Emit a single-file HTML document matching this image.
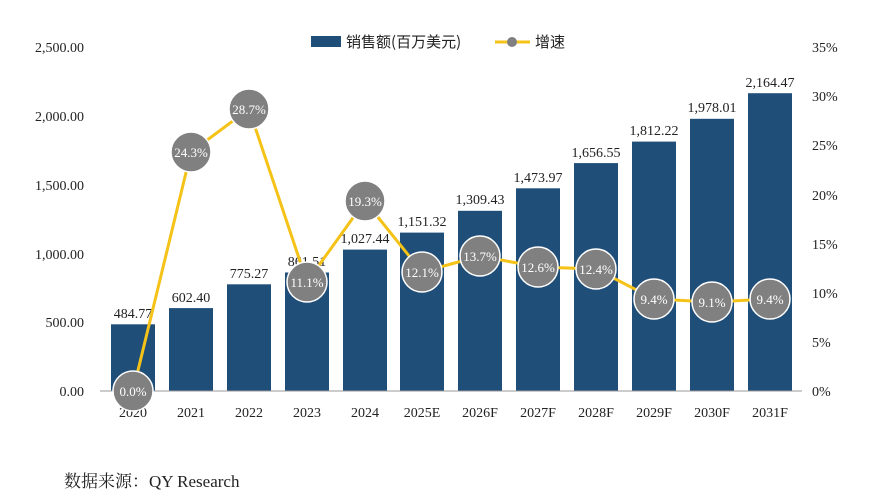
<!DOCTYPE html>
<html><head><meta charset="utf-8"><style>
body{margin:0;background:#fff;}
svg text{font-family:"Liberation Serif","Noto Serif CJK SC",serif;}
</style></head><body>
<svg width="885" height="496" viewBox="0 0 885 496" xmlns="http://www.w3.org/2000/svg">
<g font-size="14" fill="#222" text-anchor="end">
<text x="84" y="52">2,500.00</text>
<text x="84" y="121">2,000.00</text>
<text x="84" y="190">1,500.00</text>
<text x="84" y="259">1,000.00</text>
<text x="84" y="327">500.00</text>
<text x="84" y="396">0.00</text>
</g>
<g font-size="14" fill="#222" text-anchor="start">
<text x="812" y="52">35%</text>
<text x="812" y="101">30%</text>
<text x="812" y="150">25%</text>
<text x="812" y="200">20%</text>
<text x="812" y="249">15%</text>
<text x="812" y="298">10%</text>
<text x="812" y="347">5%</text>
<text x="812" y="396">0%</text>
</g>
<g fill="#1f4e79">
<rect x="111" y="324.3" width="44" height="66.7"/>
<rect x="169" y="308.1" width="44" height="82.9"/>
<rect x="227" y="284.3" width="44" height="106.7"/>
<rect x="285" y="272.5" width="44" height="118.5"/>
<rect x="343" y="249.6" width="44" height="141.4"/>
<rect x="400" y="232.6" width="44" height="158.4"/>
<rect x="458" y="210.8" width="44" height="180.2"/>
<rect x="516" y="188.3" width="44" height="202.7"/>
<rect x="574" y="163.1" width="44" height="227.9"/>
<rect x="632" y="141.6" width="44" height="249.4"/>
<rect x="690" y="118.8" width="44" height="272.2"/>
<rect x="748" y="93.2" width="44" height="297.8"/>
</g>
<line x1="100" y1="391" x2="802" y2="391" stroke="#999" stroke-width="1"/>
<g font-size="14" fill="#222" text-anchor="middle">
<text x="133" y="318">484.77</text>
<text x="191" y="302">602.40</text>
<text x="249" y="278">775.27</text>
<text x="307" y="266">861.51</text>
<text x="365" y="243">1,027.44</text>
<text x="422" y="226">1,151.32</text>
<text x="480" y="204">1,309.43</text>
<text x="538" y="182">1,473.97</text>
<text x="596" y="157">1,656.55</text>
<text x="654" y="135">1,812.22</text>
<text x="712" y="112">1,978.01</text>
<text x="770" y="87">2,164.47</text>
</g>
<g font-size="14" fill="#222" text-anchor="middle">
<text x="133" y="417">2020</text><text x="191" y="417">2021</text><text x="249" y="417">2022</text><text x="307" y="417">2023</text><text x="365" y="417">2024</text><text x="422" y="417">2025E</text><text x="480" y="417">2026F</text><text x="538" y="417">2027F</text><text x="596" y="417">2028F</text><text x="654" y="417">2029F</text><text x="712" y="417">2030F</text><text x="770" y="417">2031F</text>
</g>
<polyline fill="none" stroke="#f5c218" stroke-width="3" points="133,391 191,152 249,109 307,282 365,201 422,272 480,256 538,267 596,269 654,299 712,302 770,299"/>
<g fill="#808080" stroke="#fff" stroke-width="1.5">
<circle cx="133" cy="391" r="20"/><circle cx="191" cy="152" r="20"/><circle cx="249" cy="109" r="20"/><circle cx="307" cy="282" r="20"/><circle cx="365" cy="201" r="20"/><circle cx="422" cy="272" r="20"/><circle cx="480" cy="256" r="20"/><circle cx="538" cy="267" r="20"/><circle cx="596" cy="269" r="20"/><circle cx="654" cy="299" r="20"/><circle cx="712" cy="302" r="20"/><circle cx="770" cy="299" r="20"/>
</g>
<g font-size="13" fill="#fff" text-anchor="middle">
<text x="133" y="396">0.0%</text><text x="191" y="157">24.3%</text><text x="249" y="114">28.7%</text><text x="307" y="287">11.1%</text><text x="365" y="206">19.3%</text><text x="422" y="277">12.1%</text><text x="480" y="261">13.7%</text><text x="538" y="272">12.6%</text><text x="596" y="274">12.4%</text><text x="654" y="304">9.4%</text><text x="712" y="307">9.1%</text><text x="770" y="304">9.4%</text>
</g>
<rect x="311" y="36" width="30" height="11" fill="#1f4e79"/>
<text x="346" y="47" font-size="15" fill="#222" style="font-family:'Noto Sans CJK SC',sans-serif">销售额(百万美元)</text>
<line x1="495" y1="42" x2="530" y2="42" stroke="#f5c218" stroke-width="3"/>
<circle cx="512" cy="42" r="5" fill="#808080"/>
<text x="535" y="47" font-size="15" fill="#222" style="font-family:'Noto Sans CJK SC',sans-serif">增速</text>
<text x="64" y="487" font-size="17" fill="#222">数据来源：QY Research</text>
</svg>
</body></html>
